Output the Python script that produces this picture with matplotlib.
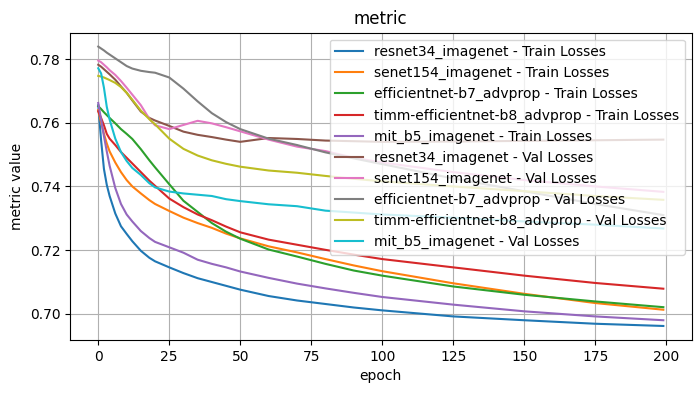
import matplotlib
matplotlib.use("Agg")
import matplotlib.pyplot as plt

epochs = [0, 1, 2, 3, 4, 6, 8, 10, 12, 15, 18, 20, 25, 30, 35, 40, 45, 50,
          60, 70, 80, 90, 100, 125, 150, 175, 199]

models = ["resnet34_imagenet", "senet154_imagenet", "efficientnet-b7_advprop",
          "timm-efficientnet-b8_advprop", "mit_b5_imagenet"]

# train losses
resnet34_train = [0.7655, 0.7545, 0.7455, 0.7405, 0.7370, 0.7315, 0.7275, 0.7251, 0.7228,
                  0.7198, 0.7176, 0.7165, 0.7146, 0.7128, 0.7112, 0.7100, 0.7088, 0.7076,
                  0.7056, 0.7042, 0.7031, 0.7020, 0.7011, 0.6992, 0.6980, 0.6969, 0.6962]
senet154_train = [0.7640, 0.7600, 0.7565, 0.7535, 0.7510, 0.7475, 0.7445, 0.7420, 0.7400,
                  0.7378, 0.7357, 0.7345, 0.7323, 0.7302, 0.7285, 0.7270, 0.7252, 0.7237,
                  0.7212, 0.7193, 0.7172, 0.7152, 0.7134, 0.7096, 0.7063, 0.7034, 0.7013]
effb7_train = [0.7652, 0.7643, 0.7633, 0.7624, 0.7615, 0.7598, 0.7580, 0.7565, 0.7549,
               0.7517, 0.7482, 0.7460, 0.7407, 0.7355, 0.7320, 0.7285, 0.7258, 0.7236,
               0.7202, 0.7180, 0.7157, 0.7136, 0.7120, 0.7086, 0.7060, 0.7039, 0.7021]
effb8_train = [0.7636, 0.7615, 0.7592, 0.7565, 0.7550, 0.7530, 0.7508, 0.7490, 0.7472,
               0.7445, 0.7418, 0.7402, 0.7362, 0.7335, 0.7312, 0.7294, 0.7274, 0.7256,
               0.7233, 0.7217, 0.7201, 0.7186, 0.7172, 0.7146, 0.7120, 0.7097, 0.7079]
mitb5_train = [0.7662, 0.7610, 0.7558, 0.7510, 0.7465, 0.7395, 0.7345, 0.7312, 0.7290,
               0.7260, 0.7238, 0.7226, 0.7209, 0.7192, 0.7170, 0.7157, 0.7146, 0.7133,
               0.7113, 0.7095, 0.7080, 0.7066, 0.7053, 0.7029, 0.7008, 0.6992, 0.6980]

# val losses
resnet34_val = [0.7782, 0.7776, 0.7768, 0.7760, 0.7752, 0.7735, 0.7714, 0.7694, 0.7670,
                0.7635, 0.7615, 0.7607, 0.7590, 0.7572, 0.7562, 0.7555, 0.7547, 0.7540,
                0.7552, 0.7549, 0.7544, 0.7542, 0.7540, 0.7541, 0.7543, 0.7545, 0.7547]
senet154_val = [0.7795, 0.7790, 0.7782, 0.7774, 0.7765, 0.7750, 0.7731, 0.7710, 0.7688,
                0.7655, 0.7612, 0.7592, 0.7580, 0.7593, 0.7606, 0.7598, 0.7586, 0.7573,
                0.7547, 0.7525, 0.7511, 0.7490, 0.7475, 0.7445, 0.7420, 0.7400, 0.7383]
effb7_val = [0.7839, 0.7833, 0.7827, 0.7820, 0.7814, 0.7802, 0.7790, 0.7778, 0.7770,
             0.7763, 0.7759, 0.7757, 0.7742, 0.7707, 0.7667, 0.7630, 0.7602, 0.7580,
             0.7550, 0.7530, 0.7507, 0.7488, 0.7470, 0.7425, 0.7385, 0.7345, 0.7310]
effb8_val = [0.7747, 0.7745, 0.7742, 0.7738, 0.7734, 0.7725, 0.7712, 0.7694, 0.7672,
             0.7638, 0.7611, 0.7595, 0.7550, 0.7518, 0.7497, 0.7482, 0.7471, 0.7462,
             0.7450, 0.7443, 0.7433, 0.7424, 0.7416, 0.7400, 0.7385, 0.7370, 0.7358]
mitb5_val = [0.7771, 0.7755, 0.7710, 0.7650, 0.7610, 0.7550, 0.7508, 0.7480, 0.7458,
             0.7436, 0.7410, 0.7397, 0.7384, 0.7378, 0.7374, 0.7370, 0.7360, 0.7354,
             0.7344, 0.7338, 0.7324, 0.7318, 0.7312, 0.7302, 0.7290, 0.7280, 0.7268]

train_losses = [resnet34_train, senet154_train, effb7_train, effb8_train, mitb5_train]
val_losses = [resnet34_val, senet154_val, effb7_val, effb8_val, mitb5_val]

fig, ax = plt.subplots(figsize=(7, 3.93), dpi=100)
fig.subplots_adjust(left=0.1, right=0.988, top=0.917, bottom=0.135)

for name, vals in zip(models, train_losses):
    ax.plot(epochs, vals, label=f"{name} - Train Losses")
for name, vals in zip(models, val_losses):
    ax.plot(epochs, vals, label=f"{name} - Val Losses")

ax.set_title("metric")
ax.set_xlabel("epoch")
ax.set_ylabel("metric value")
ax.grid(True)
ax.legend(loc="upper right")

plt.savefig("out.png")
